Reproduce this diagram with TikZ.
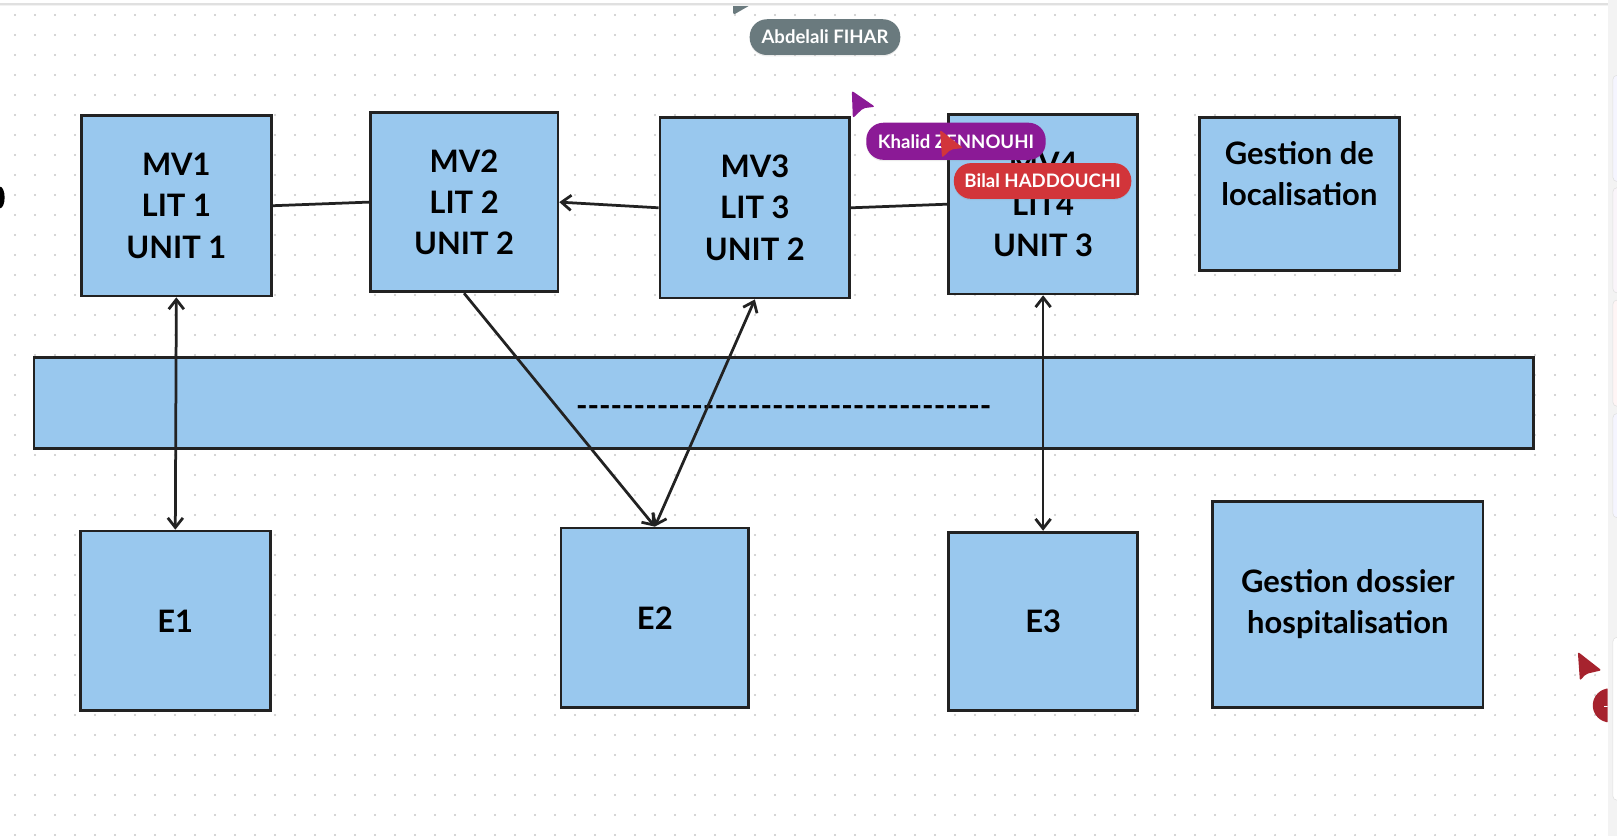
\documentclass[tikz,border=0pt]{standalone}
\usepackage{fontspec}
\setmainfont{Lato}
\usetikzlibrary{arrows.meta,shadows}

\definecolor{boxblue}{HTML}{99C8EE}
\definecolor{boxline}{HTML}{222222}
\definecolor{griddot}{HTML}{C6C6C6}
\definecolor{badgegrey}{HTML}{6A7A7E}
\definecolor{badgepurple}{HTML}{8B1A96}
\definecolor{badgered}{HTML}{D2353A}
\definecolor{cursorred}{HTML}{A6232E}
\definecolor{panelgrey}{HTML}{F3F3F3}

\tikzset{
  barb/.tip={Straight Barb[length=7pt,width=11pt]},
  vmbox/.style={draw=boxline, fill=boxblue, line width=2pt, align=center,
    inner sep=0pt, font=\fontsize{22.5}{30}\selectfont\bfseries},
  link/.style={draw=boxline, line width=2pt},
  badge/.style={rounded corners=12.5pt, text=white, inner sep=0pt,
    minimum height=26pt, font=\fontsize{13.5}{13.5}\selectfont\bfseries,
    drop shadow={opacity=0.15, shadow xshift=0pt, shadow yshift=-1pt}},
  cursor/.style={rounded corners=1.5pt}
}

\newcommand\dashline{\foreach \i in {1,...,36}{-\kern0pt}}

\begin{document}
\begin{tikzpicture}[x=0.75pt, y=-0.75pt]

    \useasboundingbox (0,0) rectangle (1568,810.7);
    \fill[white] (0,0) rectangle (1568,810.7);

    % Dotted board
    \foreach \gx in {0,...,79}
        \foreach \gy in {0,...,41}
            \fill[griddot] (14.55+19.394*\gx, 14.55+19.394*\gy) circle (0.75pt);

    % Cursor cut by the top bar, and the top bar
    \fill[badgegrey, cursor] (711,0) -- (736,0) -- (711,14.5) -- cycle;
    \fill[white] (0,0) rectangle (1559,3);
    \fill[black!12] (0,3) rectangle (1559,4.5);
    \fill[black!5] (0,4.5) rectangle (1559,6);

    % Left edge mark
    \fill[black] (0,191.5) ellipse [x radius=4.5, y radius=10.5];

    % Beds on the top row
    \node[vmbox, minimum width=138pt, minimum height=131.25pt] (mv1) at (171,199.5) {MV1\\LIT 1\\UNIT 1};
    \node[vmbox, minimum width=136.5pt, minimum height=130.5pt] (mv2) at (450,196) {MV2\\LIT 2\\UNIT 2};
    \node[vmbox, minimum width=138pt, minimum height=131.25pt] (mv3) at (732,201.5) {MV3\\LIT 3\\UNIT 2};
    \node[vmbox, minimum width=137.25pt, minimum height=130.5pt] (mv4) at (1011.5,198) {MV4\\LIT4\\UNIT 3};
    \node[vmbox, minimum width=145.5pt, minimum height=111pt] (loc) at (1260,188) {Gestion de\\localisation\\\mbox{}};

    % Long bar in the middle
    \node[vmbox, minimum width=1090.5pt, minimum height=66pt] (ward) at (760,391) {\raisebox{-9.5pt}[0pt][0pt]{\dashline}};

    % Boxes on the bottom row
    \node[vmbox, minimum width=138pt, minimum height=130.5pt] (e1) at (170,602) {E1};
    \node[vmbox, minimum width=136.5pt, minimum height=130.5pt] (e2) at (635,599) {E2};
    \node[vmbox, minimum width=137.25pt, minimum height=129.75pt] (e3) at (1011.5,602.5) {E3};
    \node[vmbox, minimum width=196.5pt, minimum height=150pt] (dossier) at (1307,586) {Gestion dossier\\hospitalisation};

    % Links between the beds
    \draw[link] (mv1.east) -- (mv2.west);
    \draw[link, -barb] (mv3.west) -- (mv2.east); % MV3 -> MV2
    \draw[link] (mv3.east) -- (mv4.west);

    % Links down to the E boxes
    \draw[link, barb-barb] (mv1.south) -- (e1.north);
    \draw[link, -barb] (mv2.south) -- (e2.north); % MV2 -> E2
    \draw[link, barb-barb] (e2.north) -- (mv3.south);
    \draw[link, barb-barb] (mv4.south) -- (e3.north);

    % Side panel of the board
    \fill[panelgrey] (1559,0) rectangle (1568,810.7);
    \draw[black!12, fill=blue!4, rounded corners=3pt] (1564,73) rectangle (1580,176);
    \draw[black!12, fill=violet!4, rounded corners=3pt] (1564,182) rectangle (1580,284);
    \draw[black!12, fill=red!4, rounded corners=3pt] (1564,291) rectangle (1580,394);
    \draw[black!12, fill=blue!4, rounded corners=3pt] (1564,401) rectangle (1580,502);
    \draw[black!12, fill=white, rounded corners=3pt] (1564,618) rectangle (1580,776);

    % Collaborators on the board
    \node[badge, fill=badgegrey, minimum width=109.5pt] (abdelali) at (800,36) {Abdelali FIHAR};
    \fill[badgepurple, cursor] (826,88) -- (848.5,103.5) -- (837,105) -- (827,114.5) -- cycle;
    \node[badge, fill=badgepurple, minimum width=130.5pt, minimum height=27pt] (khalid) at (927,137) {Khalid ZENNOUHI};
    \fill[badgered, cursor] (911.5,126) -- (934,143.5) -- (922,145) -- (913.5,153) -- cycle;
    \node[badge, fill=badgered, minimum width=129pt] (bilal) at (1011,175.5) {Bilal HADDOUCHI};
    \fill[cursorred, cursor] (1530,632) -- (1553,650) -- (1538,653.5) -- (1532,660) -- cycle;
    \begin{scope}
        \clip (1500,600) rectangle (1559,720);
        \fill[cursorred] (1561,684) circle [radius=16.5];
        \fill[white] (1555,684.5) rectangle (1559,686);
    \end{scope}

\end{tikzpicture}
\end{document}
